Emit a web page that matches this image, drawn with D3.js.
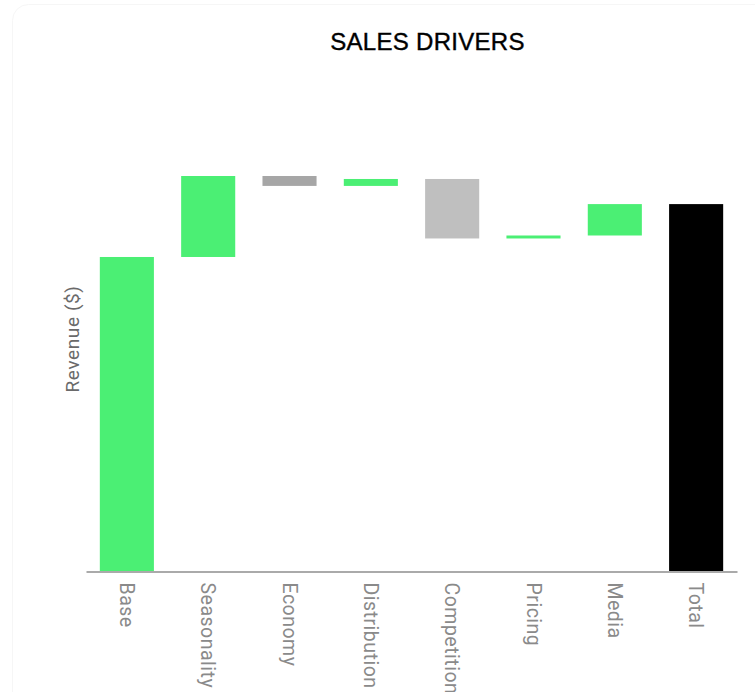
<!DOCTYPE html>
<html>
<head>
<meta charset="utf-8">
<script src="https://cdn.jsdelivr.net/npm/d3@7"></script>
<style>
  html, body { margin: 0; padding: 0; background: #fff; overflow: hidden; }
  svg { display: block; }
</style>
</head>
<body>
<svg id="chart" width="755" height="692"></svg>
<script>
// Data
const categories = ["Base", "Seasonality", "Economy", "Distribution", "Competition", "Pricing", "Media", "Total"];
const changes = [950, 245, -30, 21, -180, 9, 95];
const title = "SALES DRIVERS";
const yLabel = "Revenue ($)";

// Build waterfall steps
const steps = [];
let running = 0;
changes.forEach((v, i) => {
  const start = running;
  running += v;
  steps.push({ name: categories[i], start, end: running, value: v, type: i === 0 ? "base" : (v >= 0 ? "up" : "down") });
});
steps.push({ name: categories[categories.length - 1], start: 0, end: running, value: running, type: "total" });

const svg = d3.select("#chart");

// faint frame
svg.append("rect")
  .attr("x", 12.5).attr("y", 4.5).attr("width", 780).attr("height", 720)
  .attr("rx", 16).attr("fill", "none").attr("stroke", "#f6f6f6");

const x = d3.scaleBand()
  .domain(categories)
  .range([86, 737])
  .paddingInner(0.335)
  .paddingOuter(0.17);

const maxVal = d3.max(steps, d => Math.max(d.start, d.end));
const y = d3.scaleLinear()
  .domain([0, maxVal])
  .range([571, 176]);

const downColors = { Economy: "#a6a6a6", Competition: "#bfbfbf" };
function color(d) {
  if (d.type === "total") return "#000000";
  if (d.type === "down") return downColors[d.name] || "#b0b0b0";
  return "#4bef74";
}

svg.append("g").selectAll("rect")
  .data(steps)
  .join("rect")
  .attr("x", d => x(d.name))
  .attr("width", x.bandwidth())
  .attr("y", d => y(Math.max(d.start, d.end)))
  .attr("height", d => Math.abs(y(d.start) - y(d.end)))
  .attr("fill", color);

// x axis
const xAxis = svg.append("g")
  .attr("transform", "translate(0,571.5)")
  .call(d3.axisBottom(x).tickSize(0).tickPadding(0));
xAxis.select(".domain").attr("stroke", "#aaaaaa").attr("stroke-width", 2);
xAxis.selectAll("text")
  .attr("transform", "rotate(90)")
  .attr("x", 11)
  .attr("y", 0)
  .attr("dy", "0.35em")
  .attr("text-anchor", "start")
  .style("font-family", "Roboto, sans-serif")
  .style("font-size", "19.5px")
  .style("letter-spacing", "0.5px")
  .attr("fill", "#8a8a8a");

// y label
svg.append("text")
  .attr("transform", "translate(79,339) rotate(-90)")
  .attr("text-anchor", "middle")
  .style("font-family", "Roboto, sans-serif")
  .style("font-size", "19px")
  .style("letter-spacing", "0.6px")
  .attr("fill", "#6a6a6a")
  .text(yLabel);

// title
svg.append("text")
  .attr("x", 427.5).attr("y", 50)
  .attr("text-anchor", "middle")
  .style("font-family", "'Liberation Sans', Arial, sans-serif")
  .style("font-size", "24px")
  .style("letter-spacing", "0.3px")
  .attr("fill", "#000")
  .attr("stroke", "#000")
  .attr("stroke-width", 0.4)
  .text(title);
</script>
</body>
</html>
